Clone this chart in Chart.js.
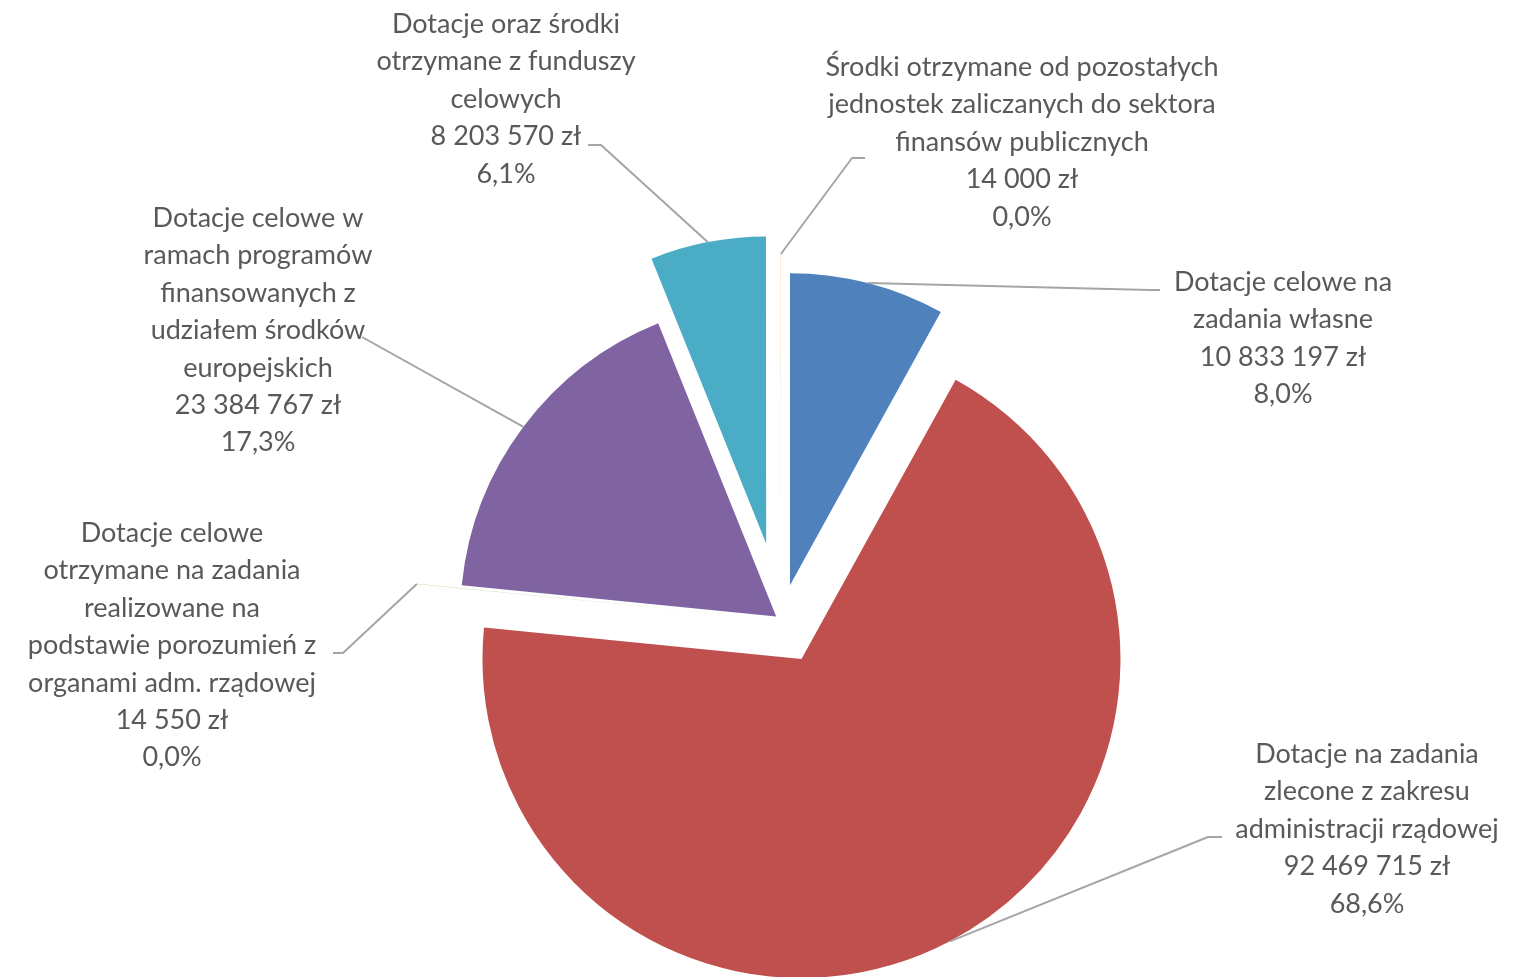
<!DOCTYPE html>
<html>
<head>
<meta charset="utf-8">
<script src="https://cdn.jsdelivr.net/npm/chart.js@4.4.1/dist/chart.umd.min.js"></script>
<style>
html,body{margin:0;padding:0;background:#ffffff;}
#wrap{width:1514px;height:977px;position:relative;}
</style>
</head>
<body>
<div id="wrap"><canvas id="c"></canvas></div>
<script>
// ---- data ----
const categories = [
  ['Dotacje celowe na', 'zadania własne'],
  ['Dotacje na zadania', 'zlecone z zakresu', 'administracji rządowej'],
  ['Dotacje celowe', 'otrzymane na zadania', 'realizowane na', 'podstawie porozumień z', 'organami adm. rządowej'],
  ['Dotacje celowe w', 'ramach programów', 'finansowanych z', 'udziałem środków', 'europejskich'],
  ['Dotacje oraz środki', 'otrzymane z funduszy', 'celowych'],
  ['Środki otrzymane od pozostałych', 'jednostek zaliczanych do sektora', 'finansów publicznych']
];
const amounts = [10833197, 92469715, 14550, 23384767, 8203570, 14000];
const shareLabels = ['8,0%', '68,6%', '0,0%', '17,3%', '6,1%', '0,0%'];

// ---- styles / layout ----
const sliceColors = ['#4F81BD', '#C0504D', '#9BBB59', '#8064A2', '#4BACC6', '#F79646'];
const explodeDist = [36, 44, 53, 6, 78, 53];
const radiusAdjust = [-1, 6, 0, 3, -6, 0];
const labelLayout = [
  { x: 1283, y: 291, leader: [[1150, 290], [1160, 290]] },
  { x: 1367, y: 763, leader: [[1208, 837], [1222, 837]] },
  { x: 172,  y: 542, leader: [[343, 653], [333, 653]] },
  { x: 258,  y: 227, leader: [[362, 337]] },
  { x: 506,  y: 33,  leader: [[601, 145], [588, 145]] },
  { x: 1022, y: 76,  leader: [[852, 158], [865, 158]] }
];
const LINE_H = 37.4;
const FONT = '27px Lato, Carlito, "Open Sans", sans-serif';
const TEXT_COLOR = '#595959';
const LEADER_COLOR = '#A5A5A5';

function formatZl(v) {
  return String(v).replace(/\B(?=(\d{3})+(?!\d))/g, ' ') + ' zł';
}

const explodePlugin = {
  id: 'explodeSlices',
  beforeDatasetDraw(chart, args) {
    const ctx = chart.ctx;
    args.meta.data.forEach((arc, i) => {
      const mid = (arc.startAngle + arc.endAngle) / 2;
      const d = explodeDist[i] || 0;
      const r0 = arc.outerRadius;
      arc.outerRadius = r0 + (radiusAdjust[i] || 0);
      ctx.save();
      ctx.translate(Math.cos(mid) * d, Math.sin(mid) * d);
      arc.draw(ctx, chart.chartArea);
      ctx.restore();
      arc.outerRadius = r0;
    });
    return false;
  }
};

const labelPlugin = {
  id: 'outsideLabels',
  afterDraw(chart) {
    const ctx = chart.ctx;
    const meta = chart.getDatasetMeta(0);
    ctx.save();
    ctx.strokeStyle = LEADER_COLOR;
    ctx.lineWidth = 2;
    ctx.lineJoin = 'round';
    meta.data.forEach((arc, i) => {
      const mid = (arc.startAngle + arc.endAngle) / 2;
      const rr = arc.outerRadius + (radiusAdjust[i] || 0) + (explodeDist[i] || 0);
      const sx = arc.x + Math.cos(mid) * rr;
      const sy = arc.y + Math.sin(mid) * rr;
      ctx.beginPath();
      ctx.moveTo(sx, sy);
      labelLayout[i].leader.forEach(p => ctx.lineTo(p[0], p[1]));
      ctx.stroke();
    });
    ctx.font = FONT;
    ctx.fillStyle = TEXT_COLOR;
    ctx.textAlign = 'center';
    ctx.textBaseline = 'alphabetic';
    meta.data.forEach((arc, i) => {
      const L = labelLayout[i];
      const lines = categories[i].concat([formatZl(amounts[i]), shareLabels[i]]);
      lines.forEach((t, k) => ctx.fillText(t, L.x, L.y + k * LINE_H));
    });
    ctx.restore();
  }
};

new Chart(document.getElementById('c'), {
  type: 'pie',
  data: {
    labels: categories.map(c => c.join(' ')),
    datasets: [{
      data: amounts,
      backgroundColor: sliceColors,
      borderWidth: 0,
      radius: 313
    }]
  },
  options: {
    responsive: true,
    maintainAspectRatio: false,
    animation: false,
    events: [],
    layout: { padding: { left: 48, right: 0, top: 263, bottom: 0 } },
    plugins: {
      legend: { display: false },
      tooltip: { enabled: false }
    }
  },
  plugins: [explodePlugin, labelPlugin]
});
</script>
</body>
</html>
